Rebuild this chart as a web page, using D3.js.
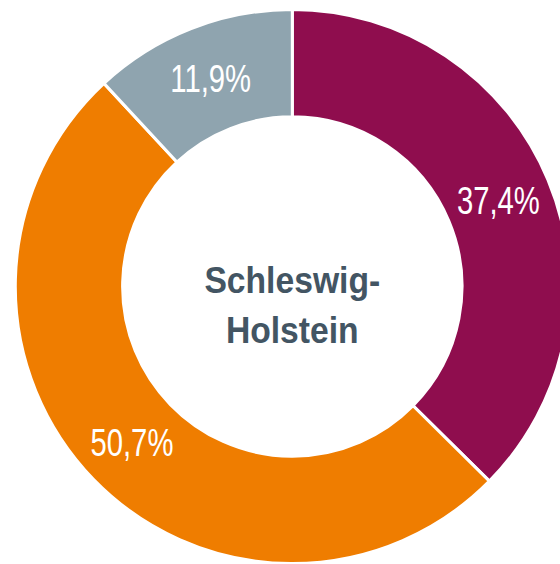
<!DOCTYPE html>
<html lang="de">
<head>
    <meta charset="UTF-8">
    <script src="https://cdn.jsdelivr.net/npm/d3@7"></script>
    <title>Schleswig-Holstein</title>
    <style>
        html, body { margin: 0; padding: 0; background: #fff; overflow: hidden; }
    </style>
</head>
<body>
</body>
<script>
    // Daten
    const categories = ["A", "B", "C"]
    const values     = [37.4, 50.7, 11.9]
    const labels     = ["37,4%", "50,7%", "11,9%"]
    const colors     = ["#8f0d4e", "#ef7d00", "#8fa4af"]
    const titleLines = ["Schleswig-", "Holstein"]

    const width  = 560
    const height = 564
    const cx = 292.3
    const cy = 286.5
    const outerR = 277
    const innerR = 169.7

    const dataset = categories.map((c, i) => ({ name: c, value: values[i], label: labels[i] }))

    const svg = d3.select("body").append("svg")
        .attr("width", width).attr("height", height)

    const g = svg.append("g").attr("transform", `translate(${cx},${cy})`)

    const color = d3.scaleOrdinal().domain(categories).range(colors)

    const pie = d3.pie().value(d => d.value).sort(null)
    const arc = d3.arc().innerRadius(innerR).outerRadius(outerR)

    // Ringsegmente
    g.selectAll("path")
        .data(pie(dataset))
        .enter()
        .append("path")
        .attr("d", arc)
        .attr("fill", d => color(d.data.name))
        .attr("stroke", "#fff")
        .attr("stroke-width", 3)

    // Prozentwerte (schmale Schrift)
    g.selectAll(".label")
        .data(pie(dataset))
        .enter()
        .append("text")
        .attr("class", "label")
        .attr("transform", d => {
            const [x, y] = arc.centroid(d)
            return `translate(${x},${y}) scale(0.77,1)`
        })
        .attr("text-anchor", "middle")
        .attr("dy", "0.36em")
        .attr("font-family", "'Liberation Sans', Arial, sans-serif")
        .attr("font-size", 38)
        .attr("fill", "#fff")
        .text(d => d.data.label)

    // Titel in der Mitte
    g.selectAll(".title")
        .data(titleLines)
        .enter()
        .append("text")
        .attr("class", "title")
        .attr("transform", (d, i) => `translate(0,${6 + i * 50}) scale(0.91,1)`)
        .attr("text-anchor", "middle")
        .attr("font-family", "'Liberation Sans', Arial, sans-serif")
        .attr("font-weight", "bold")
        .attr("font-size", 37)
        .attr("fill", "#435563")
        .text(d => d)
</script>
</html>
